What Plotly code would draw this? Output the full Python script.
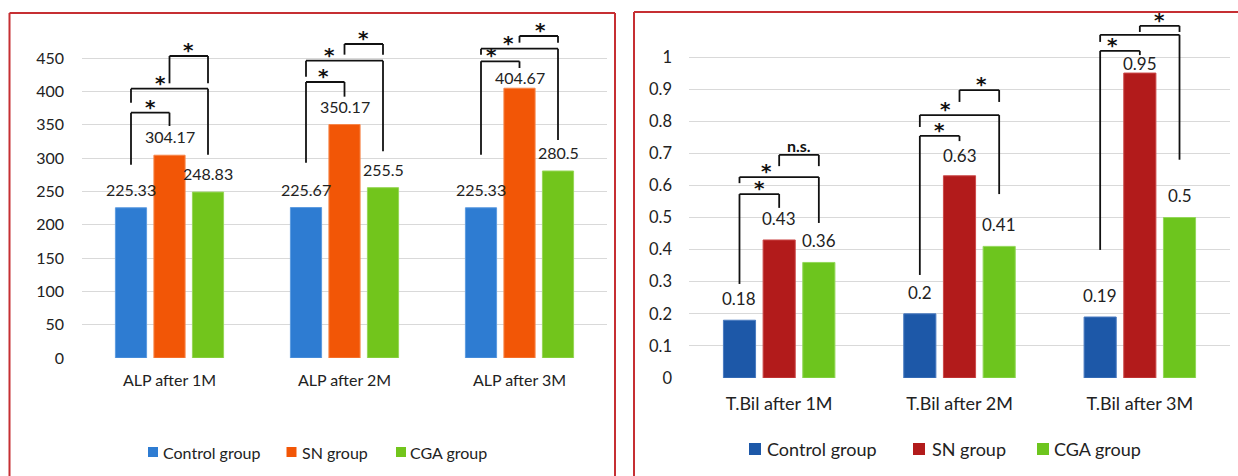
import plotly.graph_objects as go

# ---- data -------------------------------------------------------------
groups = ["Control group", "SN group", "CGA group"]

alp_categories = ["ALP after 1M", "ALP after 2M", "ALP after 3M"]
alp_control = [225.33, 225.67, 225.33]
alp_sn = [304.17, 350.17, 404.67]
alp_cga = [248.83, 255.5, 280.5]
alp_ticks = [0, 50, 100, 150, 200, 250, 300, 350, 400, 450]

tbil_categories = ["T.Bil after 1M", "T.Bil after 2M", "T.Bil after 3M"]
tbil_control = [0.18, 0.2, 0.19]
tbil_sn = [0.43, 0.63, 0.95]
tbil_cga = [0.36, 0.41, 0.5]
tbil_ticks = [0, 0.1, 0.2, 0.3, 0.4, 0.5, 0.6, 0.7, 0.8, 0.9, 1]
tbil_tick_text = ["0", "0.1", "0.2", "0.3", "0.4", "0.5", "0.6", "0.7", "0.8", "0.9", "1"]

# pairwise comparisons (bar index pairs) and their significance marks
comparisons = [(0, 1), (0, 2), (1, 2)]
alp_marks = [["*", "*", "*"], ["*", "*", "*"], ["*", "*", "*"]]
tbil_marks = [["*", "*", "n.s."], ["*", "*", "*"], ["*", "", "*"]]

# ---- layout geometry -------------------------------------------------
W, H = 1238, 476


def px_x(x):
    return x / W


def px_y(y):
    return 1 - y / H


left_colors = ["#2E7CD2", "#F25606", "#72C51C"]
left_edges = ["#5C9BE0", "#F7864A", "#96D657"]
right_colors = ["#1D58A8", "#B21B1B", "#6DC51E"]
right_edges = ["#4A7BC0", "#CC4A4A", "#93D85A"]

SLOT = 0.22  # width of one bar slot within a category (category units)

# bracket shape: (top, left leg bottom, right leg bottom, label position along span)
alp_brackets = [
    [(368, 290, 348, 0.5), (404, 383, 305, 0.38), (453, 412, 412, 0.5)],
    [(414, 293, 392, 0.45), (446, 422, 310, 0.3), (471, 455, 455, 0.5)],
    [(445, 305, 435, 0.28), (464, 455, 327, 0.36), (483, 473, 473, 0.55)],
]
tbil_brackets = [
    [(0.573, 0.293, 0.530, 0.5), (0.626, 0.607, 0.483, 0.34), (0.695, 0.660, 0.660, 0.5)],
    [(0.754, 0.321, 0.738, 0.5), (0.819, 0.782, 0.573, 0.32), (0.897, 0.860, 0.860, 0.55)],
    [(1.019, 0.399, 1.006, 0.3), (1.069, 1.047, 0.680, 0.3), (1.097, 1.078, 1.078, 0.5)],
]
# per-label vertical nudges (pixels) for the value labels
alp_label_shift = [[7, 7, 7], [7, 7, 7], [7, -1, 7]]
tbil_label_shift = [[9, 9, 9], [9, 8, 9], [9, -3, 9]]

FONT = "Lato, 'Open Sans', sans-serif"
STAR_FONT = "'DejaVu Sans', sans-serif"
TXT = "#222222"

fig = go.Figure()

panels = [
    dict(xa="x", ya="y", cats=alp_categories,
         series=[alp_control, alp_sn, alp_cga], colors=left_colors, edges=left_edges,
         marks=alp_marks, brackets=alp_brackets, shifts=alp_label_shift, fs=16),
    dict(xa="x2", ya="y2", cats=tbil_categories,
         series=[tbil_control, tbil_sn, tbil_cga], colors=right_colors, edges=right_edges,
         marks=tbil_marks, brackets=tbil_brackets, shifts=tbil_label_shift, fs=17),
]

shapes = []
annotations = []

for p in panels:
    for k, (name, vals) in enumerate(zip(groups, p["series"])):
        fig.add_trace(go.Bar(
            x=p["cats"], y=vals, name=name, xaxis=p["xa"], yaxis=p["ya"],
            marker=dict(color=p["colors"][k], line=dict(color=p["edges"][k], width=1)),
            showlegend=False, hoverinfo="x+y+name",
        ))
        # value labels above each bar
        for i, v in enumerate(vals):
            annotations.append(dict(
                x=i + (k - 1) * SLOT, y=v, xref=p["xa"], yref=p["ya"],
                text=f"{v:g}", showarrow=False, yanchor="bottom",
                yshift=p["shifts"][i][k],
                font=dict(family=FONT, size=p["fs"], color=TXT),
            ))

    # significance brackets
    for i in range(3):
        for c, (a, b) in enumerate(comparisons):
            top, lb, rb, frac = p["brackets"][i][c]
            xl = i + (a - 1) * SLOT
            xr = i + (b - 1) * SLOT
            line = dict(color="#111111", width=1.8)
            for x0, y0, x1, y1 in [(xl, lb, xl, top), (xl, top, xr, top), (xr, top, xr, rb)]:
                shapes.append(dict(type="line", xref=p["xa"], yref=p["ya"],
                                   x0=x0, y0=y0, x1=x1, y1=y1, line=line, layer="above"))
            mark = p["marks"][i][c]
            if mark:
                is_star = mark == "*"
                annotations.append(dict(
                    x=xl + frac * (xr - xl), y=top, xref=p["xa"], yref=p["ya"],
                    text=f"<b>{mark}</b>", showarrow=False, yanchor="bottom",
                    yshift=-8 if is_star else -2,
                    font=dict(family=STAR_FONT if is_star else FONT,
                              size=20 if is_star else 16, color="#111111"),
                ))

# panel frames
frame_line = dict(color="#C62F33", width=2)
for x0, y0, x1, y1 in [
    (9.5, 13, 9.5, H + 5), (9.5, 13, 615, 13), (615, 13, 615, H + 5),
    (634, 12, 634, H + 5), (634, 12, W + 5, 12),
]:
    shapes.append(dict(type="line", xref="paper", yref="paper",
                       x0=px_x(x0), y0=px_y(y0), x1=px_x(x1), y1=px_y(y1), line=frame_line))

# legends drawn as colour squares with labels
legend_layout = [
    dict(colors=left_colors, size=10, yc=452, fs=16,
         squares=[148, 286.5, 396], texts=[161, 300, 408]),
    dict(colors=right_colors, size=12, yc=449, fs=18,
         squares=[749, 913, 1037], texts=[765, 930, 1052]),
]
for lg in legend_layout:
    for k, name in enumerate(groups):
        s = lg["squares"][k]
        shapes.append(dict(type="rect", xref="paper", yref="paper",
                           x0=px_x(s), x1=px_x(s + lg["size"]),
                           y0=px_y(lg["yc"] + lg["size"] / 2), y1=px_y(lg["yc"] - lg["size"] / 2),
                           fillcolor=lg["colors"][k], line=dict(width=0)))
        annotations.append(dict(x=px_x(lg["texts"][k]), y=px_y(lg["yc"]), xref="paper", yref="paper",
                                text=name, showarrow=False, xanchor="left", yanchor="middle",
                                font=dict(family=FONT, size=lg["fs"], color=TXT)))

left_scale = 300 / 450   # pixels per unit
right_scale = 321 / 1.0

fig.update_layout(
    width=W, height=H, margin=dict(l=0, r=0, t=0, b=0, autoexpand=False),
    paper_bgcolor="white", plot_bgcolor="white",
    barmode="group", bargap=0.34, bargroupgap=0.19,
    font=dict(family=FONT, color=TXT),
    shapes=shapes, annotations=annotations,
    xaxis=dict(domain=[px_x(82), px_x(607)], anchor="y", showgrid=False, zeroline=False,
               showline=False, ticks="", tickfont=dict(size=16, color=TXT), automargin=False,
               ticklabelstandoff=11, fixedrange=True),
    yaxis=dict(domain=[px_y(358), px_y(5)], anchor="x", automargin=False,
               range=[0, (358 - 5) / left_scale], tickvals=alp_ticks,
               showgrid=True, gridcolor="#D9D9D9", gridwidth=1, zeroline=False, showline=False,
               tickfont=dict(size=16, color=TXT), ticklabelstandoff=17, fixedrange=True),
    xaxis2=dict(domain=[px_x(689), px_x(1230)], anchor="y2", showgrid=False, zeroline=False,
                showline=False, ticks="", tickfont=dict(size=18, color=TXT), automargin=False,
                ticklabelstandoff=13, fixedrange=True),
    yaxis2=dict(domain=[px_y(378), px_y(5)], anchor="x2", automargin=False,
                range=[0, (378 - 5) / right_scale], tickvals=tbil_ticks, ticktext=tbil_tick_text,
                showgrid=True, gridcolor="#D9D9D9", gridwidth=1, zeroline=False, showline=False,
                tickfont=dict(size=16.5, color=TXT), ticklabelstandoff=16, fixedrange=True),
)

fig.write_html("out.html")
